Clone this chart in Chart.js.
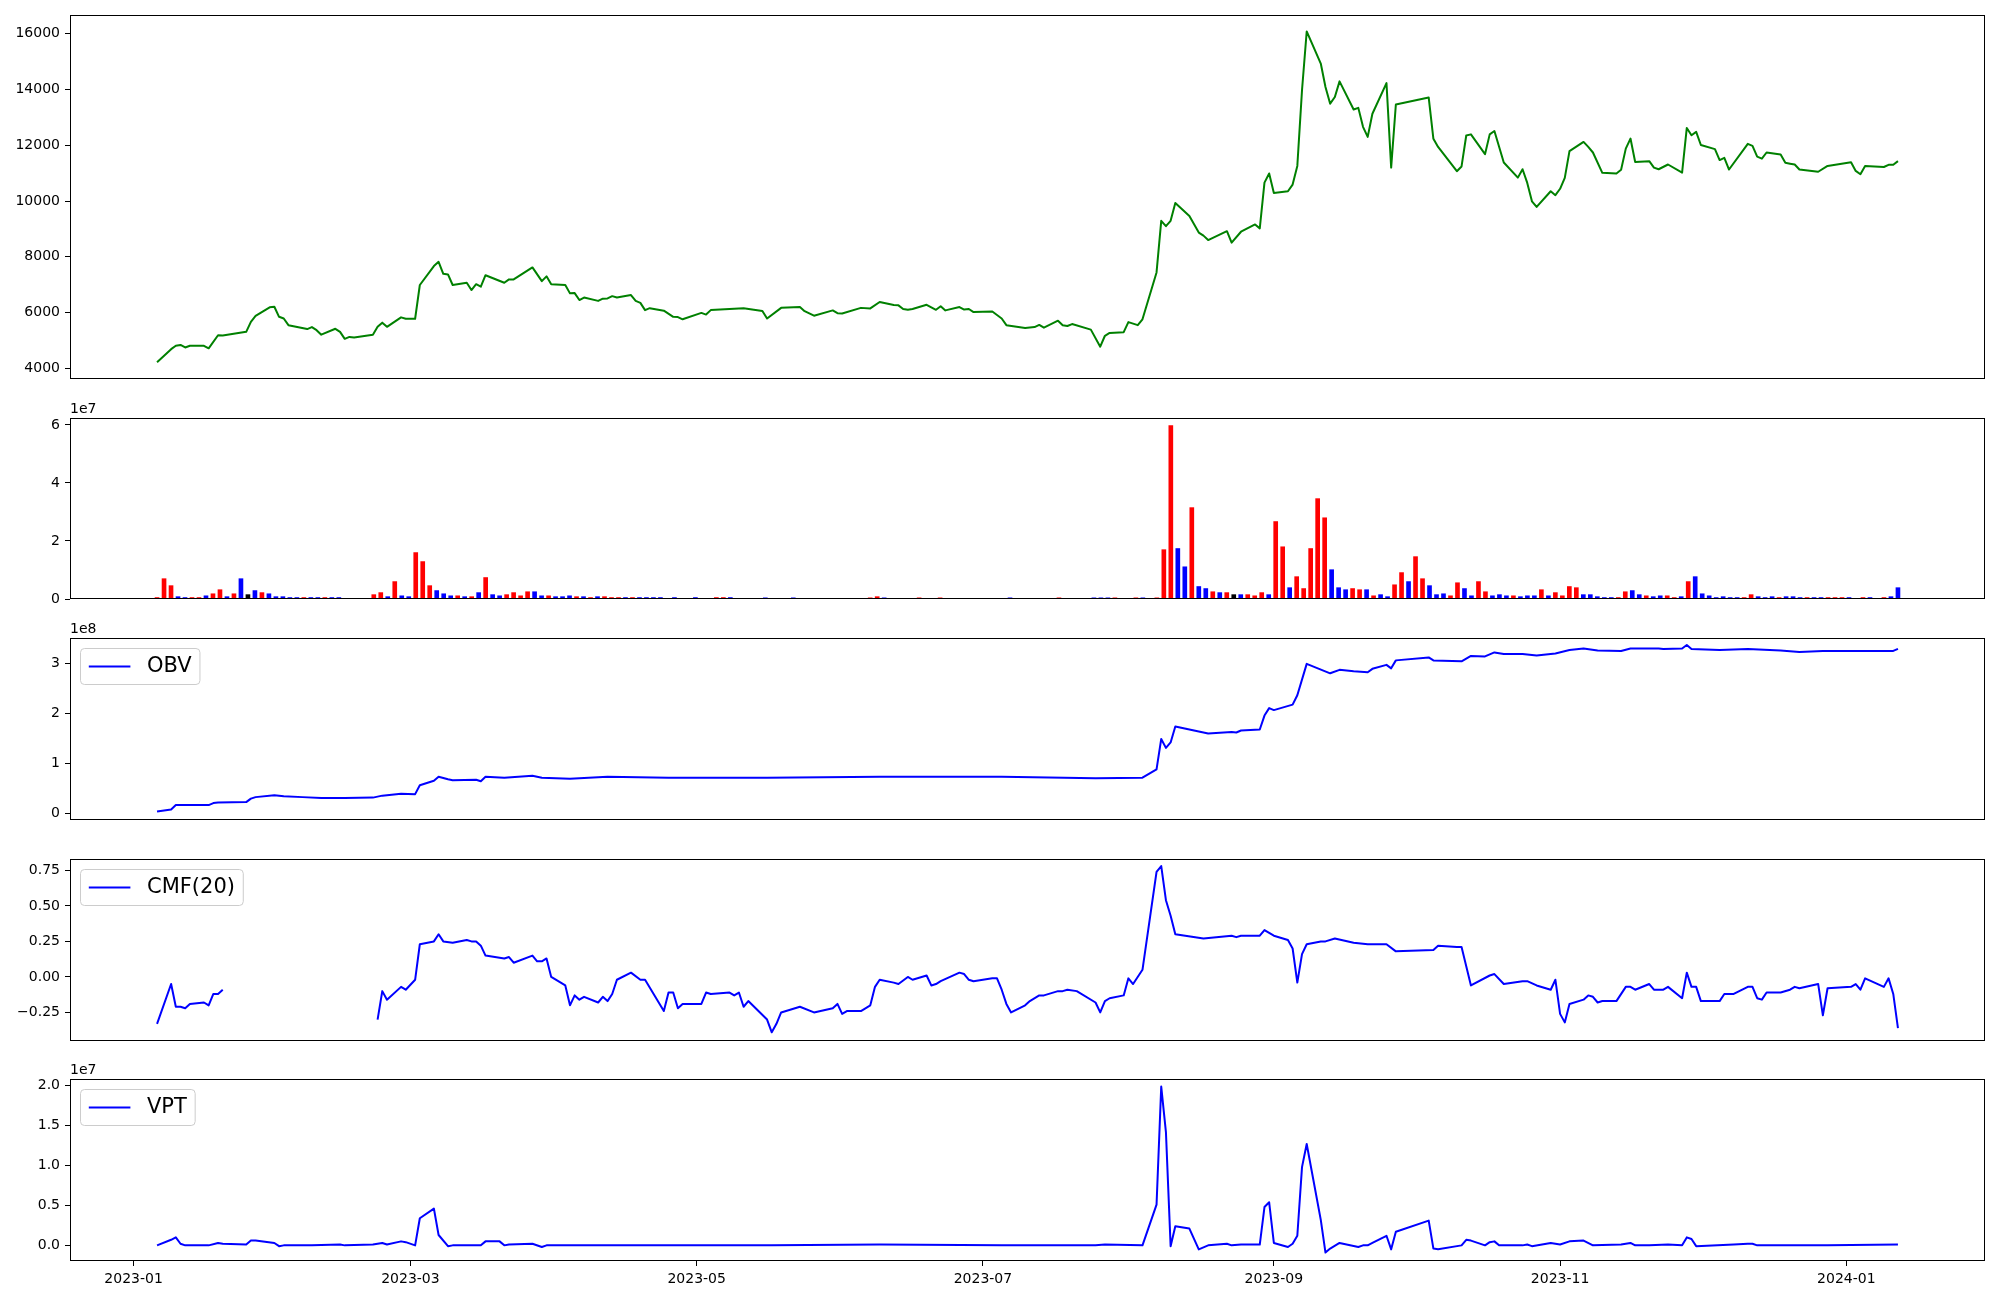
<!DOCTYPE html>
<html lang="en">
<head>
<meta charset="utf-8">
<title>Price, volume and volume indicators</title>
<script src="https://cdn.jsdelivr.net/npm/chart.js@4.4.1/dist/chart.umd.min.js"></script>
<style>
    html, body { margin: 0; padding: 0; background: #ffffff; }
    #figure { position: relative; width: 2000px; height: 1300px; overflow: hidden; }
    #figure canvas { position: absolute; left: 0; }
</style>
</head>
<body>
<div id="figure">
    <canvas id="priceChart"></canvas>
    <canvas id="volumeChart"></canvas>
    <canvas id="obvChart"></canvas>
    <canvas id="cmfChart"></canvas>
    <canvas id="vptChart"></canvas>
</div>
<script>
// x values are days counted from 2023-01-01 (trading days only)
const priceDays = [
    5, 8, 9, 10, 11, 12, 15, 16, 18, 19,
    24, 25, 26, 29, 30, 31, 32, 33, 37, 38,
    39, 40, 43, 44, 45, 46, 47, 51, 52, 53,
    54, 57, 58, 60, 61, 64, 65, 66, 67, 68,
    71, 72, 73, 74, 75, 79, 80, 81, 85, 87,
    88, 89, 92, 93, 94, 95, 96, 99, 100, 101,
    102, 103, 106, 107, 108, 109, 110, 113, 115, 116,
    117, 121, 122, 123, 127, 130, 134, 135, 138, 142,
    143, 144, 145, 149, 150, 151, 155, 157, 159, 162,
    163, 164, 165, 166, 169, 171, 172, 173, 176, 177,
    178, 179, 183, 185, 186, 190, 192, 193, 194, 197,
    198, 199, 200, 204, 206, 207, 208, 211, 212, 214,
    215, 218, 219, 220, 221, 222, 225, 227, 228, 229,
    233, 234, 236, 239, 240, 241, 242, 243, 246, 247,
    248, 249, 250, 253, 254, 255, 256, 257, 260, 261,
    262, 263, 264, 267, 268, 269, 276, 277, 278, 282,
    283, 284, 285, 288, 289, 290, 292, 295, 296, 297,
    298, 299, 302, 303, 304, 305, 306, 309, 310, 311,
    313, 316, 317, 318, 319, 320, 323, 324, 325, 327,
    330, 331, 332, 333, 334, 337, 338, 339, 340, 344,
    345, 346, 347, 348, 351, 352, 353, 354, 355, 359,
    361, 366, 367, 368, 369, 373, 374, 375, 376
];
const priceValues = [
    4220, 4690, 4810, 4840, 4750, 4810, 4810, 4720, 5190, 5180,
    5310, 5670, 5880, 6190, 6210, 5850, 5790, 5550, 5410, 5480,
    5370, 5210, 5420, 5310, 5060, 5130, 5110, 5210, 5490, 5640,
    5490, 5830, 5780, 5780, 6990, 7670, 7820, 7390, 7370, 6990,
    7070, 6810, 7020, 6930, 7340, 7070, 7190, 7190, 7620, 7130,
    7300, 7020, 6990, 6690, 6700, 6450, 6540, 6420, 6500, 6510,
    6590, 6540, 6630, 6420, 6350, 6090, 6160, 6070, 5850, 5840,
    5760, 5990, 5930, 6090, 6130, 6160, 6060, 5790, 6170, 6200,
    6050, 5970, 5890, 6080, 5980, 5970, 6170, 6150, 6380, 6270,
    6260, 6130, 6100, 6130, 6280, 6100, 6230, 6080, 6200, 6110,
    6130, 6020, 6040, 5790, 5550, 5450, 5480, 5560, 5460, 5710,
    5550, 5520, 5590, 5390, 4780, 5170, 5270, 5300, 5660, 5550,
    5760, 7440, 9290, 9100, 9290, 9930, 9460, 8870, 8760, 8600,
    8920, 8510, 8900, 9160, 9020, 10660, 10990, 10290, 10350, 10590,
    11260, 13970, 16080, 14930, 14090, 13490, 13730, 14290, 13280, 13340,
    12660, 12300, 13130, 14230, 11200, 13460, 13710, 12230, 11940, 11070,
    11240, 12350, 12390, 11680, 12390, 12510, 11380, 10840, 11140, 10650,
    9990, 9790, 10350, 10210, 10440, 10830, 11790, 12120, 11940, 11740,
    11010, 10990, 11120, 11880, 12240, 11400, 11430, 11200, 11140, 11310,
    11020, 12620, 12360, 12480, 12010, 11860, 11470, 11550, 11130, 12050,
    11980, 11590, 11520, 11740, 11670, 11370, 11340, 11310, 11130, 11050,
    11260, 11390, 11080, 10960, 11260, 11220, 11300, 11300, 11430
];

// one bar per trading day, in units of 1e7
const volume = [
    0.05, 0.70, 0.46, 0.08, 0.05, 0.05, 0.05, 0.11, 0.18, 0.32,
    0.08, 0.18, 0.70, 0.15, 0.29, 0.22, 0.18, 0.08, 0.08, 0.05,
    0.05, 0.05, 0.05, 0.05, 0.05, 0.05, 0.05, 0.01, 0.01, 0.01,
    0.01, 0.15, 0.22, 0.08, 0.60, 0.11, 0.08, 1.60, 1.29, 0.46,
    0.29, 0.18, 0.11, 0.11, 0.08, 0.08, 0.22, 0.74, 0.15, 0.11,
    0.15, 0.22, 0.11, 0.25, 0.25, 0.11, 0.11, 0.08, 0.08, 0.11,
    0.08, 0.08, 0.05, 0.08, 0.08, 0.05, 0.05, 0.05, 0.05, 0.05,
    0.05, 0.05, 0.05, 0.01, 0.05, 0.01, 0.01, 0.05, 0.01, 0.01,
    0.05, 0.05, 0.05, 0.01, 0.01, 0.01, 0.01, 0.04, 0.01, 0.01,
    0.01, 0.04, 0.01, 0.01, 0.01, 0.01, 0.01, 0.01, 0.01, 0.01,
    0.01, 0.01, 0.04, 0.08, 0.04, 0.01, 0.01, 0.01, 0.01, 0.04,
    0.01, 0.01, 0.04, 0.01, 0.01, 0.01, 0.01, 0.01, 0.01, 0.01,
    0.01, 0.01, 0.04, 0.01, 0.01, 0.01, 0.01, 0.01, 0.01, 0.04,
    0.01, 0.01, 0.01, 0.01, 0.04, 0.04, 0.04, 0.04, 0.01, 0.01,
    0.04, 0.04, 0.01, 0.04, 1.70, 5.98, 1.74, 1.11, 3.15, 0.43,
    0.36, 0.25, 0.22, 0.22, 0.15, 0.15, 0.15, 0.11, 0.22, 0.15,
    2.67, 1.80, 0.39, 0.77, 0.36, 1.74, 3.46, 2.80, 1.01, 0.39,
    0.32, 0.36, 0.32, 0.32, 0.11, 0.15, 0.08, 0.49, 0.91, 0.60,
    1.46, 0.70, 0.46, 0.15, 0.18, 0.11, 0.56, 0.36, 0.11, 0.60,
    0.25, 0.11, 0.15, 0.11, 0.11, 0.08, 0.11, 0.11, 0.32, 0.11,
    0.22, 0.11, 0.43, 0.39, 0.15, 0.15, 0.08, 0.05, 0.05, 0.05,
    0.25, 0.29, 0.15, 0.11, 0.08, 0.11, 0.11, 0.05, 0.08, 0.60,
    0.77, 0.18, 0.11, 0.05, 0.08, 0.05, 0.05, 0.05, 0.15, 0.08,
    0.05, 0.08, 0.05, 0.08, 0.08, 0.05, 0.05, 0.05, 0.05, 0.05,
    0.05, 0.05, 0.05, 0.01, 0.05, 0.05, 0.01, 0.05, 0.08, 0.39
];
// 1 = close above open (red), -1 = below (blue), 0 = unchanged (black)
const volumeDir = [
    1, 1, 1, -1, -1, 1, 1, -1, 1, 1,
    -1, 1, -1, 0, -1, 1, -1, -1, -1, -1,
    -1, 1, -1, -1, 1, -1, -1, -1, -1, 1,
    1, 1, 1, -1, 1, -1, -1, 1, 1, 1,
    -1, -1, -1, 1, -1, 1, -1, 1, -1, -1,
    1, 1, 1, 1, -1, -1, 1, -1, -1, -1,
    1, -1, 1, -1, 1, 1, 1, -1, 1, -1,
    -1, -1, -1, 1, -1, 1, -1, -1, 1, -1,
    1, 1, -1, 1, -1, 1, -1, -1, 1, -1,
    -1, -1, 1, -1, 1, -1, 1, -1, 1, -1,
    1, -1, 1, 1, -1, 1, -1, 1, -1, 1,
    -1, 1, 1, -1, 1, -1, 1, -1, 1, -1,
    1, -1, -1, 1, -1, 1, -1, 1, -1, 1,
    -1, 1, -1, 1, -1, -1, -1, 1, -1, 1,
    1, -1, 1, 1, 1, 1, -1, -1, 1, -1,
    -1, 1, -1, 1, 0, -1, 1, 1, 1, -1,
    1, 1, -1, 1, 1, 1, 1, 1, -1, -1,
    -1, 1, 1, -1, 1, -1, -1, 1, 1, -1,
    1, 1, -1, -1, -1, 1, 1, -1, -1, 1,
    1, -1, -1, -1, 1, -1, -1, -1, 1, -1,
    1, 1, 1, 1, -1, -1, -1, -1, -1, 1,
    1, -1, -1, 1, -1, -1, 1, 1, -1, 1,
    -1, -1, -1, -1, -1, -1, -1, 1, 1, -1,
    -1, -1, 1, -1, -1, -1, 1, -1, -1, 1,
    1, 1, -1, 1, 1, -1, -1, 1, -1, -1
];

// OBV in units of 1e8
const obvDays = [
    5, 8, 9, 16, 17, 18, 24, 25, 26, 30,
    32, 36, 40, 45, 51, 53, 57, 60, 61, 64,
    65, 67, 68, 73, 74, 75, 79, 85, 87, 93,
    101, 114, 135, 159, 185, 205, 215, 218, 219, 220,
    221, 222, 229, 234, 235, 236, 240, 241, 242, 243,
    247, 248, 250, 255, 257, 260, 263, 264, 267, 268,
    269, 276, 277, 283, 285, 288, 290, 292, 296, 299,
    303, 306, 309, 312, 317, 319, 325, 326, 330, 331,
    332, 338, 344, 351, 355, 360, 368, 375, 376
];
const obvValues = [
    0.03, 0.07, 0.16, 0.16, 0.20, 0.21, 0.22, 0.29, 0.32, 0.36,
    0.34, 0.32, 0.30, 0.30, 0.31, 0.35, 0.39, 0.38, 0.56, 0.65,
    0.73, 0.68, 0.66, 0.67, 0.64, 0.73, 0.71, 0.75, 0.71, 0.69,
    0.73, 0.71, 0.71, 0.73, 0.73, 0.70, 0.71, 0.88, 1.49, 1.31,
    1.42, 1.74, 1.60, 1.63, 1.62, 1.66, 1.68, 1.96, 2.11, 2.07,
    2.18, 2.37, 3.00, 2.81, 2.88, 2.85, 2.83, 2.90, 2.98, 2.91,
    3.07, 3.13, 3.07, 3.05, 3.16, 3.15, 3.23, 3.20, 3.20, 3.17,
    3.21, 3.28, 3.31, 3.27, 3.26, 3.31, 3.31, 3.30, 3.31, 3.38,
    3.30, 3.28, 3.30, 3.27, 3.24, 3.26, 3.26, 3.26, 3.30
];

// CMF(20); null marks the stretch with no value
const cmfDays = [
    5, 8, 9, 10, 11, 12, 15, 16, 17, 18,
    19, 24, 52, 53, 54, 57, 58, 60, 61, 64,
    65, 66, 68, 71, 72, 73, 74, 75, 79, 80,
    81, 85, 86, 87, 88, 89, 92, 93, 94, 95,
    96, 99, 100, 101, 102, 103, 106, 108, 109, 113,
    114, 115, 116, 117, 121, 122, 123, 127, 128, 129,
    130, 131, 135, 136, 137, 138, 142, 145, 149, 150,
    151, 152, 155, 157, 158, 159, 162, 163, 165, 166,
    169, 170, 171, 172, 176, 177, 178, 179, 183, 184,
    185, 186, 187, 190, 191, 193, 194, 197, 198, 199,
    201, 205, 206, 207, 208, 211, 212, 213, 215, 218,
    219, 220, 221, 222, 228, 234, 235, 236, 240, 241,
    243, 246, 247, 248, 249, 250, 253, 254, 256, 260,
    263, 267, 269, 277, 278, 282, 283, 285, 289, 290,
    292, 296, 297, 299, 302, 303, 304, 305, 306, 309,
    310, 311, 312, 313, 316, 318, 319, 320, 323, 324,
    326, 327, 330, 331, 332, 333, 334, 338, 339, 341,
    344, 345, 346, 347, 348, 351, 353, 354, 355, 359,
    360, 361, 366, 367, 368, 369, 373, 374, 375, 376
];
const cmfValues = [
    -0.33, -0.05, -0.21, -0.21, -0.22, -0.19, -0.18, -0.20, -0.12, -0.12,
    -0.09, null, -0.30, -0.10, -0.16, -0.07, -0.09, -0.02, 0.23, 0.25,
    0.30, 0.25, 0.24, 0.26, 0.25, 0.25, 0.22, 0.15, 0.13, 0.14,
    0.10, 0.15, 0.11, 0.11, 0.13, 0.00, -0.06, -0.20, -0.13, -0.16,
    -0.14, -0.18, -0.14, -0.17, -0.12, -0.02, 0.03, -0.02, -0.02, -0.24,
    -0.11, -0.11, -0.22, -0.19, -0.19, -0.11, -0.12, -0.11, -0.13, -0.11,
    -0.21, -0.17, -0.30, -0.39, -0.33, -0.25, -0.21, -0.25, -0.22, -0.19,
    -0.26, -0.24, -0.24, -0.20, -0.07, -0.02, -0.04, -0.05, 0.00, -0.02,
    0.01, -0.06, -0.05, -0.03, 0.03, 0.02, -0.02, -0.03, -0.01, -0.01,
    -0.09, -0.19, -0.25, -0.20, -0.17, -0.13, -0.13, -0.10, -0.10, -0.09,
    -0.10, -0.18, -0.25, -0.17, -0.15, -0.13, -0.01, -0.05, 0.05, 0.74,
    0.78, 0.54, 0.43, 0.30, 0.27, 0.29, 0.28, 0.29, 0.29, 0.33,
    0.29, 0.26, 0.20, -0.04, 0.16, 0.23, 0.25, 0.25, 0.27, 0.24,
    0.23, 0.23, 0.18, 0.19, 0.22, 0.21, 0.21, -0.06, 0.01, 0.02,
    -0.05, -0.03, -0.03, -0.06, -0.09, -0.02, -0.26, -0.32, -0.19, -0.16,
    -0.13, -0.14, -0.18, -0.17, -0.17, -0.07, -0.07, -0.09, -0.05, -0.09,
    -0.09, -0.07, -0.15, 0.03, -0.07, -0.07, -0.17, -0.17, -0.12, -0.12,
    -0.07, -0.07, -0.15, -0.16, -0.11, -0.11, -0.09, -0.07, -0.08, -0.05,
    -0.27, -0.08, -0.07, -0.05, -0.09, -0.01, -0.07, -0.01, -0.12, -0.36
];

// VPT in units of 1e7
const vptDays = [
    5, 8, 9, 10, 11, 16, 18, 19, 24, 25,
    26, 30, 31, 32, 38, 44, 45, 51, 53, 54,
    57, 58, 60, 61, 64, 65, 67, 68, 74, 75,
    78, 79, 80, 85, 87, 88, 94, 121, 136, 159,
    185, 205, 207, 215, 218, 219, 220, 221, 222, 225,
    227, 229, 233, 234, 236, 240, 241, 242, 243, 246,
    247, 248, 249, 250, 253, 254, 255, 257, 261, 262,
    263, 264, 267, 268, 269, 276, 277, 278, 283, 284,
    285, 288, 289, 290, 291, 296, 297, 298, 302, 304,
    306, 309, 311, 317, 319, 320, 323, 327, 330, 331,
    332, 333, 341, 344, 345, 346, 361, 376
];
const vptValues = [
    0.00, 0.07, 0.10, 0.02, 0.00, 0.00, 0.03, 0.02, 0.01, 0.06,
    0.06, 0.03, -0.01, 0.00, 0.00, 0.01, 0.00, 0.01, 0.03, 0.01,
    0.05, 0.04, 0.00, 0.34, 0.46, 0.13, -0.01, 0.00, 0.00, 0.05,
    0.05, 0.00, 0.01, 0.02, -0.02, 0.00, 0.00, 0.00, 0.00, 0.01,
    0.00, 0.00, 0.01, 0.00, 0.51, 1.99, 1.42, -0.01, 0.24, 0.21,
    -0.05, 0.00, 0.02, 0.00, 0.01, 0.01, 0.48, 0.54, 0.03, -0.02,
    0.02, 0.12, 0.98, 1.27, 0.32, -0.09, -0.04, 0.03, -0.02, 0.00,
    0.00, 0.03, 0.12, -0.05, 0.17, 0.31, -0.04, -0.05, 0.00, 0.07,
    0.06, 0.00, 0.04, 0.05, 0.00, 0.00, 0.01, -0.01, 0.03, 0.01,
    0.05, 0.06, 0.00, 0.01, 0.03, 0.00, 0.00, 0.01, 0.00, 0.10,
    0.08, -0.01, 0.01, 0.02, 0.02, 0.00, 0.00, 0.01
];

// axis ticks
const xTickDays = [0, 59, 120, 181, 243, 304, 365];
const xTickLabels = ['2023-01', '2023-03', '2023-05', '2023-07', '2023-09', '2023-11', '2024-01'];
const priceTicks = [4000, 6000, 8000, 10000, 12000, 14000, 16000];
const priceTickLabels = ['4000', '6000', '8000', '10000', '12000', '14000', '16000'];
const volumeTicks = [0, 2, 4, 6];
const volumeTickLabels = ['0', '2', '4', '6'];
const obvTicks = [0, 1, 2, 3];
const obvTickLabels = ['0', '1', '2', '3'];
const cmfTicks = [-0.25, 0, 0.25, 0.5, 0.75];
const cmfTickLabels = ['\u22120.25', '0.00', '0.25', '0.50', '0.75'];
const vptTicks = [0, 0.5, 1, 1.5, 2];
const vptTickLabels = ['0.0', '0.5', '1.0', '1.5', '2.0'];

// layout of the figure (pixels)
const FIG_WIDTH = 2000;
const FIG_HEIGHT = 1300;
const AXES_LEFT = 70;
const AXES_RIGHT = 1985;
const PANELS = {
    price:  { axesTop: 15,   axesBottom: 379,  range: [3620, 16670] },
    volume: { axesTop: 418,  axesBottom: 599,  range: [0, 6.24] },
    obv:    { axesTop: 638,  axesBottom: 820,  range: [-0.14, 3.52] },
    cmf:    { axesTop: 859,  axesBottom: 1041, range: [-0.451, 0.83] },
    vpt:    { axesTop: 1079, axesBottom: 1261, range: [-0.196, 2.085], showDates: true }
};

// matplotlib style 5% margin on the shared date axis
const firstDay = priceDays[0];
const lastDay = priceDays[priceDays.length - 1];
const X_MIN = firstDay - 0.05 * (lastDay - firstDay);
const X_MAX = lastDay + 0.05 * (lastDay - firstDay);

const axesFrame = {
    id: 'axesFrame',
    afterDraw(chart) {
        const { ctx, chartArea } = chart;
        ctx.save();
        ctx.strokeStyle = '#000000';
        ctx.lineWidth = 1;
        ctx.strokeRect(chartArea.left + 0.5, chartArea.top + 0.5, chartArea.width - 1, chartArea.height - 1);
        ctx.restore();
    }
};

// the "1e7" multiplier above the y axis
const offsetText = {
    id: 'offsetText',
    afterDraw(chart, args, opts) {
        if (!opts.text) return;
        const { ctx, chartArea } = chart;
        ctx.save();
        ctx.font = '14px "DejaVu Sans"';
        ctx.fillStyle = '#000000';
        ctx.textAlign = 'left';
        ctx.textBaseline = 'alphabetic';
        ctx.fillText(opts.text, chartArea.left, chartArea.top - 5);
        ctx.restore();
    }
};

// legend box in the upper left corner of the axes
const boxLegend = {
    id: 'boxLegend',
    afterDraw(chart, args, opts) {
        if (!opts.show) return;
        const ds = chart.data.datasets[0];
        const { ctx, chartArea } = chart;
        const pad = 8.3, handle = 41.6, gap = 16.6;
        ctx.save();
        ctx.font = '21px "DejaVu Sans"';
        const textWidth = ctx.measureText(ds.label).width;
        const x = chartArea.left + 10.5;
        const y = chartArea.top + 10.5;
        const w = pad + handle + gap + textWidth + pad;
        const h = 36;
        ctx.beginPath();
        ctx.roundRect(x, y, w, h, 4);
        ctx.fillStyle = 'rgba(255, 255, 255, 0.8)';
        ctx.fill();
        ctx.strokeStyle = '#cccccc';
        ctx.lineWidth = 1;
        ctx.stroke();
        const midY = y + h / 2;
        ctx.beginPath();
        ctx.moveTo(x + pad, midY);
        ctx.lineTo(x + pad + handle, midY);
        ctx.strokeStyle = ds.borderColor;
        ctx.lineWidth = 2;
        ctx.stroke();
        ctx.fillStyle = '#000000';
        ctx.textBaseline = 'middle';
        ctx.fillText(ds.label, x + pad + handle + gap, midY);
        ctx.restore();
    }
};

class IndicatorDashboard {
    constructor() {
        this.charts = {};
        this.init();
    }

    init() {
        Chart.defaults.font.family = '"DejaVu Sans", sans-serif';
        Chart.defaults.font.size = 14;
        Chart.defaults.color = '#000000';
        Chart.register(axesFrame, offsetText, boxLegend);

        this.charts.price = this.createLineChart('priceChart', PANELS.price, {
            days: priceDays, values: priceValues, label: 'Close', color: 'green',
            ticks: priceTicks, tickLabels: priceTickLabels
        });
        this.charts.volume = this.createVolumeChart();
        this.charts.obv = this.createLineChart('obvChart', PANELS.obv, {
            days: obvDays, values: obvValues, label: 'OBV', color: 'blue',
            ticks: obvTicks, tickLabels: obvTickLabels, offset: '1e8', legend: true
        });
        this.charts.cmf = this.createLineChart('cmfChart', PANELS.cmf, {
            days: cmfDays, values: cmfValues, label: 'CMF(20)', color: 'blue',
            ticks: cmfTicks, tickLabels: cmfTickLabels, legend: true
        });
        this.charts.vpt = this.createLineChart('vptChart', PANELS.vpt, {
            days: vptDays, values: vptValues, label: 'VPT', color: 'blue',
            ticks: vptTicks, tickLabels: vptTickLabels, offset: '1e7', legend: true
        });
    }

    // size the canvas so that the chart area lands on the axes box
    preparePanel(canvasId, panel) {
        const canvas = document.getElementById(canvasId);
        const padTop = Math.min(panel.axesTop, 30);
        const top = panel.axesTop - padTop;
        const padBottom = panel.showDates ? 0 : 20;
        const bottom = panel.showDates ? FIG_HEIGHT : panel.axesBottom + padBottom;
        canvas.width = FIG_WIDTH;
        canvas.height = bottom - top;
        canvas.style.top = top + 'px';
        return {
            canvas,
            padding: { left: 0, right: FIG_WIDTH - AXES_RIGHT, top: padTop, bottom: padBottom }
        };
    }

    yScale(panel, ticks, labels) {
        return {
            type: 'linear',
            min: panel.range[0],
            max: panel.range[1],
            afterBuildTicks: scale => { scale.ticks = ticks.map(v => ({ value: v })); },
            afterFit: scale => { scale.width = AXES_LEFT; },
            grid: { drawOnChartArea: false, drawTicks: true, tickLength: 5, tickWidth: 1, tickColor: '#000000' },
            border: { display: false },
            ticks: { padding: 5, autoSkip: false, color: '#000000', callback: (value, index) => labels[index] }
        };
    }

    dateScale(panel) {
        const scale = {
            type: 'linear',
            min: X_MIN,
            max: X_MAX,
            display: !!panel.showDates,
            afterBuildTicks: s => { s.ticks = xTickDays.map(v => ({ value: v })); },
            grid: { drawOnChartArea: false, drawTicks: true, tickLength: 5, tickWidth: 1, tickColor: '#000000' },
            border: { display: false },
            ticks: { padding: 5, autoSkip: false, maxRotation: 0, color: '#000000', callback: (value, index) => xTickLabels[index] }
        };
        if (panel.showDates) {
            scale.afterFit = s => { s.height = FIG_HEIGHT - panel.axesBottom; };
        }
        return scale;
    }

    baseOptions(padding, xScale, yScale, plugins) {
        return {
            responsive: false,
            animation: false,
            devicePixelRatio: 1,
            layout: { padding },
            plugins: Object.assign({ legend: { display: false }, tooltip: { enabled: false } }, plugins),
            scales: { x: xScale, y: yScale }
        };
    }

    createLineChart(canvasId, panel, cfg) {
        const { canvas, padding } = this.preparePanel(canvasId, panel);
        const points = cfg.days.map((d, i) => ({ x: d, y: cfg.values[i] }));

        return new Chart(canvas.getContext('2d'), {
            type: 'line',
            data: {
                datasets: [{
                    label: cfg.label,
                    data: points,
                    borderColor: cfg.color,
                    borderWidth: 2,
                    pointRadius: 0,
                    tension: 0,
                    fill: false,
                    spanGaps: false,
                    borderJoinStyle: 'round'
                }]
            },
            options: this.baseOptions(
                padding,
                this.dateScale(panel),
                this.yScale(panel, cfg.ticks, cfg.tickLabels),
                { offsetText: { text: cfg.offset || '' }, boxLegend: { show: !!cfg.legend } }
            )
        });
    }

    createVolumeChart() {
        const panel = PANELS.volume;
        const { canvas, padding } = this.preparePanel('volumeChart', panel);

        // the bars sit evenly spaced between the first and last trading day
        const step = (lastDay - firstDay) / (volume.length - 1);
        const colors = volumeDir.map(d => (d > 0 ? 'red' : d < 0 ? 'blue' : 'black'));

        return new Chart(canvas.getContext('2d'), {
            type: 'bar',
            data: {
                datasets: [{
                    label: 'Volume',
                    data: volume.map((v, i) => ({ x: i, y: v })),
                    backgroundColor: colors,
                    borderWidth: 0,
                    barThickness: 4
                }]
            },
            options: this.baseOptions(
                padding,
                {
                    type: 'linear',
                    display: false,
                    offset: false,
                    min: (X_MIN - firstDay) / step,
                    max: (X_MAX - firstDay) / step
                },
                this.yScale(panel, volumeTicks, volumeTickLabels),
                { offsetText: { text: '1e7' }, boxLegend: { show: false } }
            )
        });
    }
}

document.addEventListener('DOMContentLoaded', function() {
    window.indicatorDashboard = new IndicatorDashboard();
});
</script>
</body>
</html>
